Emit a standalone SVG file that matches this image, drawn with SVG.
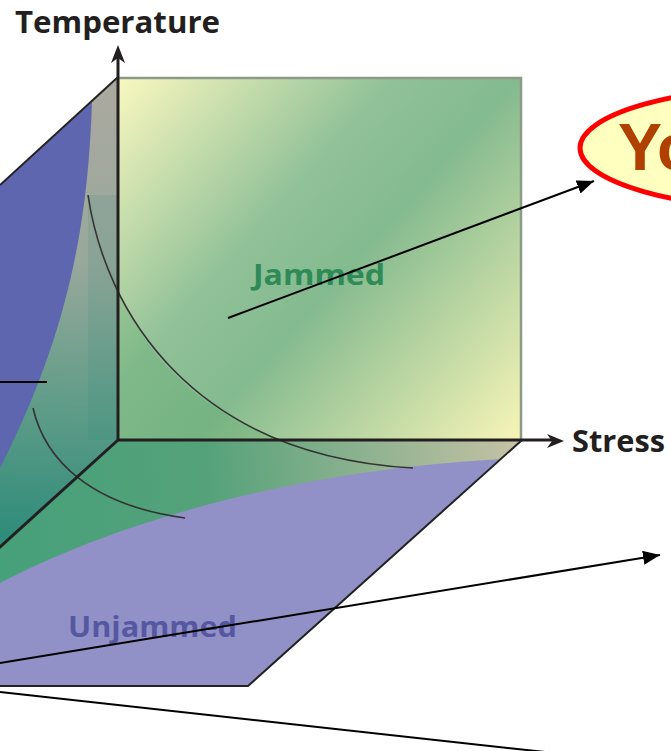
<svg xmlns="http://www.w3.org/2000/svg" width="671" height="751" viewBox="0 0 671 751">
<defs>
<style>
.axis{stroke:#231f20;stroke-width:3;fill:none}
.curve{stroke:#333;stroke-width:1.6;fill:none}
.edge{stroke:#222;stroke-width:2;fill:none}
.conn{stroke:#000;stroke-width:2;fill:none}
.lbl{font-family:"Open Sans","Liberation Sans",sans-serif;font-weight:700;fill:#231f20}
</style>
<linearGradient id="gBack" gradientUnits="userSpaceOnUse" x1="118" y1="77" x2="522" y2="440">
<stop offset="0" stop-color="#faf8c0"/>
<stop offset="0.38" stop-color="#91c198"/>
<stop offset="0.55" stop-color="#84ba8f"/>
<stop offset="1" stop-color="#f8f5b8"/>
</linearGradient>
<linearGradient id="gLeft" gradientUnits="userSpaceOnUse" x1="118" y1="80" x2="100" y2="540">
<stop offset="0" stop-color="#aba9a0"/>
<stop offset="0.4" stop-color="#98a89b"/>
<stop offset="0.72" stop-color="#5e9c88"/>
<stop offset="1" stop-color="#2f8c7a"/>
</linearGradient>
<linearGradient id="gBottom" gradientUnits="userSpaceOnUse" x1="0" y1="500" x2="522" y2="450">
<stop offset="0" stop-color="#46a07a"/>
<stop offset="0.4" stop-color="#55a27a"/>
<stop offset="1" stop-color="#c6c2a5"/>
</linearGradient>
<marker id="ah" markerUnits="userSpaceOnUse" markerWidth="18" markerHeight="14" refX="17" refY="7" orient="auto">
<path d="M0,0 L17,7 L0,14 Z" fill="#000"/>
</marker>
</defs>

<g id="left-plane">
<path d="M118,77 L118,440 L0,547 L0,185 Z" fill="url(#gLeft)"/>
<path d="M88,195 L88,440 L118,440 L118,195 Z" fill="#1f8070" opacity="0.12"/>
<path d="M92,102 C88,220 70,330 0,468 L0,185 Z" fill="#5f66b0"/>
<path d="M0,185 L118,77" class="edge"/>
</g>

<g id="bottom-plane">
<path d="M118,440 L522,440 L248,686 L0,686 L0,547 Z" fill="url(#gBottom)"/>
<path d="M0,583 C120,520 300,470 501,459 L248,686 L0,686 Z" fill="#9191c8"/>
<path d="M522,440 L248,686 L0,686" class="edge"/>
</g>

<g id="back-plane">
<rect x="118" y="77" width="404" height="363" fill="url(#gBack)"/>
<path d="M118,292 C150,360 200,412 283,440 L118,440 Z" fill="#3c9a50" opacity="0.2"/>
<path d="M118,78 L521,78 L521,440" fill="none" stroke="#8d9a88" stroke-width="2.5"/>
</g>

<g id="curves">
<path d="M88,195 C105,310 190,455 413,468" class="curve"/>
<path d="M33,408 C45,460 90,505 185,518" class="curve"/>
</g>

<g id="axes">
<path d="M118,440 L118,58" class="axis"/>
<path d="M118,45 L111,63 L118,58 L125,63 Z" fill="#231f20"/>
<path d="M118,440 L553,440" class="axis"/>
<path d="M564,441 L547,434 L552,441 L547,448 Z" fill="#231f20"/>
<path d="M118,440 L-10,556" class="axis"/>
</g>

<g id="labels">
<text class="lbl" x="15" y="33" font-size="31" textLength="205" lengthAdjust="spacingAndGlyphs">Temperature</text>
<text class="lbl" x="572" y="452" font-size="31" textLength="93" lengthAdjust="spacingAndGlyphs">Stress</text>
<text x="253" y="285" font-family="'Open Sans','Liberation Sans',sans-serif" font-weight="700" font-size="28" fill="#2e8a56" textLength="132" lengthAdjust="spacingAndGlyphs">Jammed</text>
<text x="68" y="637" font-family="'Open Sans','Liberation Sans',sans-serif" font-weight="700" font-size="28" fill="#5558a0" textLength="169" lengthAdjust="spacingAndGlyphs">Unjammed</text>
</g>

<g id="callout">
<ellipse cx="800" cy="148" rx="220" ry="62" fill="#ffffc0" stroke="#ff0000" stroke-width="5"/>
<text x="618" y="170" font-family="'Liberation Sans',Arial,sans-serif" font-weight="700" font-size="66" fill="#b04000">Yo</text>
</g>

<g id="connectors">
<path d="M228,318 L594,181" class="conn" marker-end="url(#ah)"/>
<path d="M0,663 L660,555" class="conn" marker-end="url(#ah)"/>
<path d="M0,692 L545,752" class="conn"/>
<path d="M0,382 L47,382" class="conn"/>
</g>
</svg>
